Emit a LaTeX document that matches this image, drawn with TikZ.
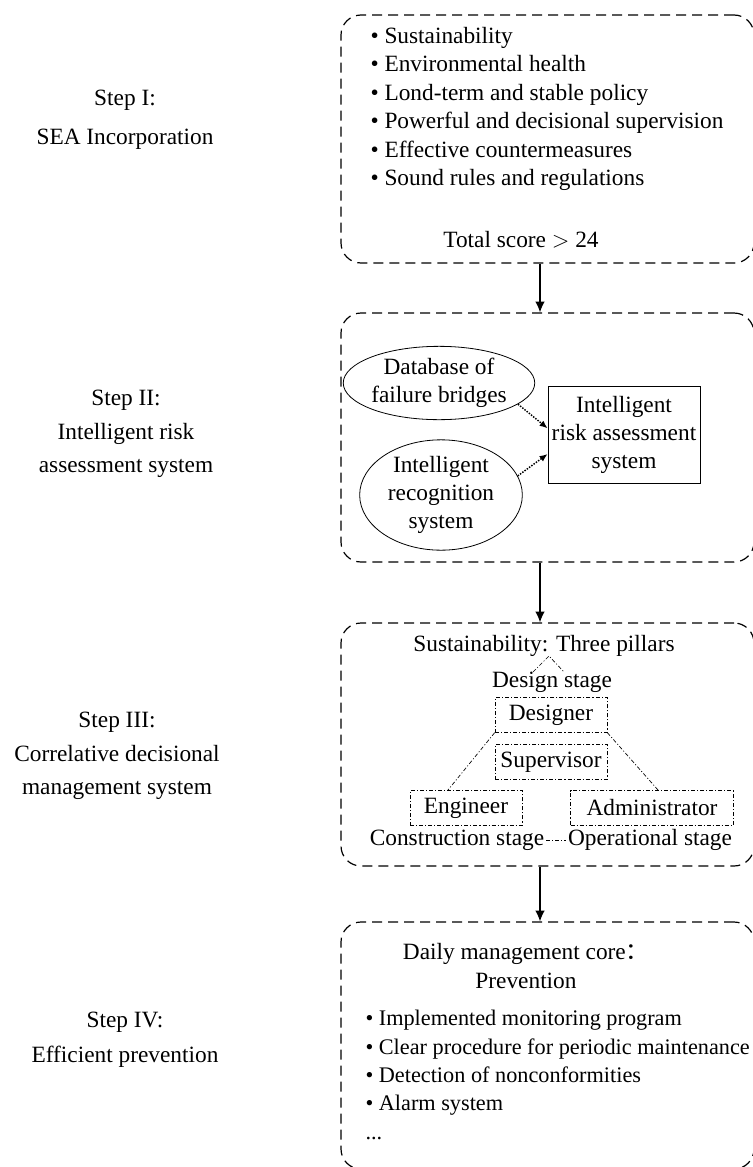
\documentclass[tikz,border=0pt]{standalone}
\usepackage{fontspec}
\setmainfont{Liberation Serif}
\newfontfamily\cjk{Noto Sans CJK SC}
\usetikzlibrary{shapes.geometric,arrows.meta}

\tikzset{every picture/.style={line width=0.75pt}}
\tikzset{
  stagebox/.style={draw, dash pattern=on 7.5pt off 4.5pt, rounded corners=15pt, inner sep=0pt, line width=0.9pt},
  rolebox/.style={draw, dash pattern=on 3pt off 1.5pt on 0.8pt off 1.5pt, line width=0.5pt, inner sep=1pt, minimum height=26pt},
  roleline/.style={dash pattern=on 3pt off 1.5pt on 0.8pt off 1.5pt, line width=0.5pt},
  srcellipse/.style={draw, ellipse, inner sep=0pt, line width=0.6pt, align=center},
  flow/.style={-{Latex[length=8pt,width=7pt]}, line width=0.9pt},
  feed/.style={-{Latex[length=6pt,width=5pt]}, densely dotted, line width=1.1pt},
  steplabel/.style={align=center},
}

\begin{document}
\begin{tikzpicture}[x=0.75pt,y=0.75pt,yscale=-1,xscale=1, font=\fontsize{17.5}{21.3}\selectfont]
\useasboundingbox (0,0) rectangle (753,1167);

% step titles
\node [steplabel] (stepI) at (125,120) {Step I:\\[8pt]SEA Incorporation};
\node [steplabel] (stepII) at (126,434) {Step II:\\[4pt]Intelligent risk\\[4pt]assessment system};
\node [steplabel] (stepIII) at (117,756) {Step III:\\[4pt]Correlative decisional\\[4pt]management system};
\node [steplabel] (stepIV) at (125,1040) {Step IV:\\[5pt]Efficient prevention};

% stage boxes
\node [stagebox, minimum width=309.75pt, minimum height=186pt] (box1) at (547.5,139) {};
\node [stagebox, minimum width=309.75pt, minimum height=186.75pt] (box2) at (547.5,437.5) {};
\node [stagebox, minimum width=309.75pt, minimum height=182.25pt] (box3) at (547.5,744.5) {};
\node [stagebox, minimum width=309.75pt, minimum height=185.25pt] (box4) at (547.5,1045.5) {};

\coordinate (spine) at (540,0);
\draw [flow] (box1.south -| spine) -- (box2.north -| spine);
\draw [flow] (box2.south -| spine) -- (box3.north -| spine);
\draw [flow] (box3.south -| spine) -- (box4.north -| spine);

% step I
\node [anchor=west, align=left, inner sep=0pt] (criteria) at (370,109) {• Sustainability\\• Environmental health\\• Lond-term and stable policy\\• Powerful and decisional supervision\\• Effective countermeasures\\• Sound rules and regulations};
\node (score) at (521,240) {Total score $>$ 24};

% step II
\node [srcellipse, minimum width=123pt, minimum height=55pt] (dbase) at (439,383) {Database of\\failure bridges};
\node [srcellipse, minimum width=122pt, minimum height=78pt] (recog) at (441,495) {Intelligent\\recognition\\system};
\node [draw, line width=0.6pt, minimum width=114pt, minimum height=73pt, align=center, inner sep=0pt] (riskbox) at (624,435) {Intelligent\\risk assessment\\system};
\draw [feed] (dbase.-15) -- (riskbox.175);
\draw [feed] (recog.14) -- (riskbox.194);

% step III
\node (pillars) at (544,646) {Sustainability: Three pillars};
\node (design) at (552,682) {Design stage};
\node [rolebox, minimum width=84pt] (designer) at (551,715) {Designer};
\node [rolebox, minimum width=84pt] (supervisor) at (551,762) {Supervisor};
\node [rolebox, minimum width=84pt] (engineer) at (466,808) {Engineer};
\node [rolebox, minimum width=122pt] (admin) at (652,808) {Administrator};
\node [inner sep=1pt] (construct) at (457,840) {Construction stage};
\node [inner sep=1pt] (operate) at (650,840) {Operational stage};

\coordinate (apex) at (549,656);
\coordinate (caretL) at (533,672);
\coordinate (caretR) at (564,672);
\coordinate (engtop) at (448,790);
\coordinate (admtop) at (658,790);
\draw [roleline] (caretL) -- (apex) -- (caretR);
\draw [roleline] (designer.south west) -- (engtop);
\draw [roleline] (designer.south east) -- (admtop);
\draw [roleline] (construct.east) -- (operate.west);

% step IV
\node [align=center] (core) at (526,966) {Daily management core{\cjk ：}\\Prevention};
\node [anchor=west, align=left, inner sep=0pt, font=\fontsize{16.7}{21.3}\selectfont] (tasks) at (365,1075) {• Implemented monitoring program\\• Clear procedure for periodic maintenance\\• Detection of nonconformities\\• Alarm system\\...};

\end{tikzpicture}
\end{document}
